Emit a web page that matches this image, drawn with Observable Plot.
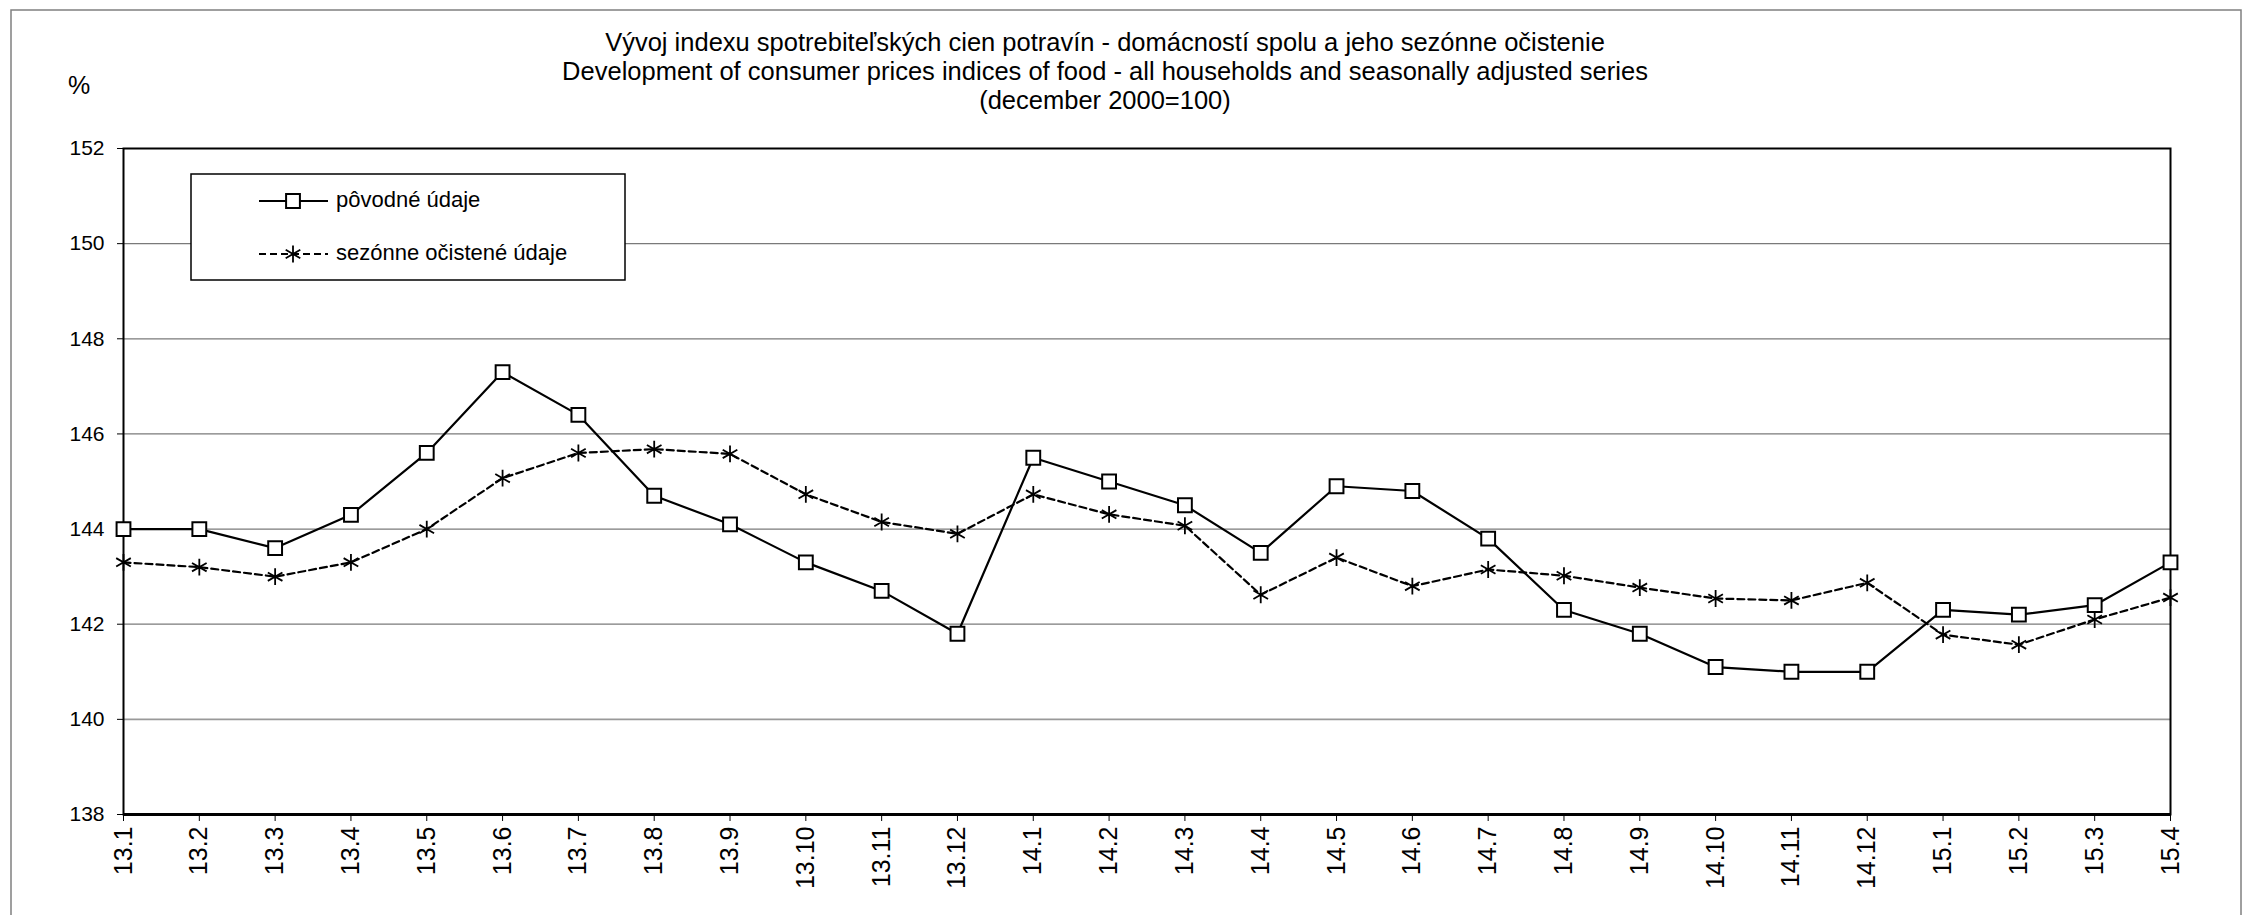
<!DOCTYPE html>
<html>
<head>
<meta charset="utf-8">
<script src="https://cdn.jsdelivr.net/npm/d3@7"></script>
<script src="https://cdn.jsdelivr.net/npm/@observablehq/plot@0.6"></script>
<style>
  html, body { margin: 0; padding: 0; background: white; }
  #wrap { position: relative; width: 2250px; height: 915px; overflow: hidden; }
  #wrap svg { display: block; }
</style>
</head>
<body>
<div id="wrap"></div>
<script>
const months = ["13.1","13.2","13.3","13.4","13.5","13.6","13.7","13.8","13.9","13.10","13.11","13.12",
  "14.1","14.2","14.3","14.4","14.5","14.6","14.7","14.8","14.9","14.10","14.11","14.12",
  "15.1","15.2","15.3","15.4"];
const originalValues = [144.0,144.0,143.6,144.3,145.6,147.3,146.4,144.7,144.1,143.3,142.7,141.8,
  145.5,145.0,144.5,143.5,144.9,144.8,143.8,142.3,141.8,141.1,141.0,141.0,
  142.3,142.2,142.4,143.3];
const adjustedValues = [143.3,143.2,143.0,143.3,144.0,145.07,145.6,145.68,145.58,144.73,144.15,143.9,
  144.73,144.31,144.07,142.62,143.4,142.8,143.15,143.02,142.77,142.54,142.5,142.87,
  141.78,141.57,142.1,142.56];
const seriesNames = ["pôvodné údaje", "sezónne očistené údaje"];
const yTicks = [138,140,142,144,146,148,150,152];
const titleLines = [
  "Vývoj indexu spotrebiteľských cien potravín - domácností spolu a jeho sezónne očistenie",
  "Development of consumer prices indices of food - all households and seasonally adjusted series",
  "(december 2000=100)"
];
const unitLabel = "%";

const origData = months.map((m, i) => ({month: m, value: originalValues[i], series: seriesNames[0]}));
const adjData = months.map((m, i) => ({month: m, value: adjustedValues[i], series: seriesNames[1]}));

const FONT = "'Liberation Sans', Arial, Helvetica, sans-serif";

const chart = Plot.plot({
  width: 2250,
  height: 915,
  marginLeft: 123,
  marginRight: 80,
  marginTop: 148,
  marginBottom: 101,
  style: {fontFamily: FONT, background: "white", color: "black"},
  x: {type: "point", domain: months, padding: 0, round: false},
  y: {domain: [138, 152]},
  marks: [
    Plot.ruleY(yTicks.filter(d => d > 138 && d < 152), {stroke: d => d === 140 ? "#999" : "#7a7a7a", strokeWidth: d => d === 140 ? 1.8 : 1.2}),
    Plot.frame({stroke: "black", strokeWidth: 2}),
    Plot.ruleY([138], {stroke: "black", strokeWidth: 3}),
    Plot.axisY({ticks: yTicks, tickSize: 6, tickPadding: 13, fontSize: 21, label: null, tickFormat: d => String(d)}),
    Plot.axisX({tickRotate: -90, tickSize: 7, tickPadding: 5, fontSize: 25, label: null}),
    Plot.line(adjData, {x: "month", y: "value", stroke: "black", strokeWidth: 2.2, strokeDasharray: "7,4"}),
    Plot.line(origData, {x: "month", y: "value", stroke: "black", strokeWidth: 2.2}),
    Plot.dot(origData, {x: "month", y: "value", symbol: "square", r: 7.8, fill: "white", stroke: "black", strokeWidth: 2}),
    Plot.dot(adjData, {x: "month", y: "value", symbol: "asterisk", r: 8, stroke: "black", strokeWidth: 1.8})
  ]
});

document.getElementById("wrap").appendChild(chart);

// Decorations: outer border, title, unit label, legend
const svg = d3.select(chart);
const g = svg.append("g").attr("font-family", FONT).attr("fill", "black");

g.append("rect")
  .attr("x", 11).attr("y", 10).attr("width", 2230).attr("height", 940)
  .attr("fill", "none").attr("stroke", "#808080").attr("stroke-width", 1.5);

const titleY = [44, 73, 102];
titleLines.forEach((t, i) => {
  g.append("text").attr("x", 1105).attr("y", titleY[i])
    .attr("text-anchor", "middle").attr("dominant-baseline", "middle")
    .attr("font-size", 25.5).text(t);
});

g.append("text").attr("x", 79).attr("y", 87)
  .attr("text-anchor", "middle").attr("dominant-baseline", "middle")
  .attr("font-size", 25).text(unitLabel);

// Legend
const lg = g.append("g");
lg.append("rect").attr("x", 191).attr("y", 174).attr("width", 434).attr("height", 106)
  .attr("fill", "white").attr("stroke", "black").attr("stroke-width", 1.5);
const rows = [{y: 201, dash: null, sym: d3.symbolSquare, fill: "white", r: 7.8, sw: 2},
              {y: 254, dash: "7,4", sym: d3.symbolAsterisk, fill: "none", r: 8, sw: 1.8}];
rows.forEach((r, i) => {
  lg.append("line").attr("x1", 259).attr("x2", 328).attr("y1", r.y).attr("y2", r.y)
    .attr("stroke", "black").attr("stroke-width", 2.2)
    .attr("stroke-dasharray", r.dash);
  lg.append("path").attr("transform", `translate(293,${r.y})`)
    .attr("d", d3.symbol(r.sym, Math.PI * r.r * r.r)())
    .attr("fill", r.fill).attr("stroke", "black").attr("stroke-width", r.sw);
  lg.append("text").attr("x", 336).attr("y", r.y)
    .attr("text-anchor", "start").attr("dominant-baseline", "middle")
    .attr("font-size", 22).text(seriesNames[i]);
});
</script>
</body>
</html>
